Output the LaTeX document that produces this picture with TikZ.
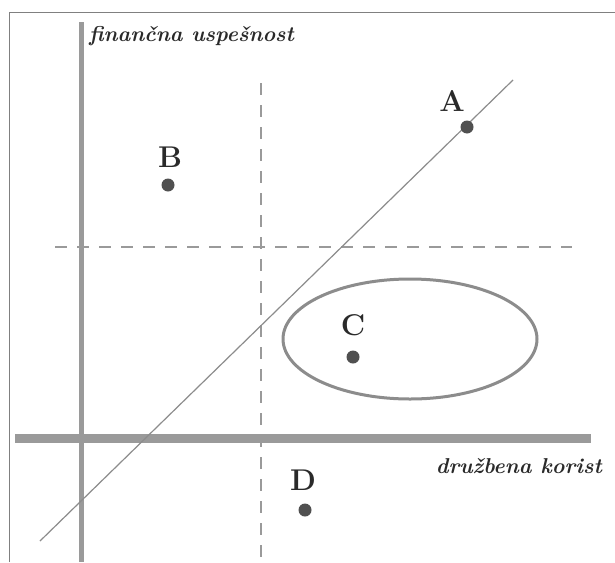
\documentclass[tikz,border=0pt]{standalone}
\usepackage{fontspec}
\usepackage{tikz}
\definecolor{axisgray}{HTML}{9A9A9A}
\definecolor{dotgray}{HTML}{505050}
\definecolor{linegray}{HTML}{8C8C8C}
\definecolor{textgray}{HTML}{2A2A2A}
\begin{document}
\begin{tikzpicture}[x=1pt,y=-1pt,
  axisline/.style={draw=axisgray,line cap=butt},
  dashline/.style={draw=axisgray,line width=2pt,dash pattern=on 12pt off 10pt},
  dotnode/.style={circle,fill=dotgray,inner sep=0pt,minimum size=13pt},
  ptlabel/.style={font=\fontsize{30}{30}\selectfont\bfseries,text=textgray,inner sep=0pt},
  axlabel/.style={font=\fontsize{21.5}{21.5}\selectfont\bfseries\itshape,text=textgray,inner sep=0pt}]
\useasboundingbox (0,0) rectangle (615,562);
\fill[white] (0,0) rectangle (615,562);
% frame
\draw[gray,line width=1pt] (9,562) -- (9,12) -- (615,12);
% dashed guides
\coordinate (dvt) at (261,83);
\coordinate (dvb) at (261,562);
\coordinate (dhl) at (55,247);
\coordinate (dhr) at (572,247);
\draw[dashline] (dvt) -- (dvb);
\draw[dashline] (dhl) -- (dhr);
% axes
\coordinate (yt) at (81,22);
\coordinate (yb) at (81,562);
\coordinate (xl) at (15,438);
\coordinate (xr) at (591,438);
\draw[axisline,line width=5pt] (yt) -- (yb);
\draw[axisline,line width=9pt] (xl) -- (xr);
% diagonal
\coordinate (d1) at (40,541);
\coordinate (d2) at (513,80);
\draw[linegray,line width=1.2pt] (d1) -- (d2);
% ellipse
\draw[linegray,line width=3pt] (410,339) ellipse [x radius=127pt, y radius=60pt];
% points
\node[dotnode] (A) at (467,127) {};
\node[dotnode] (B) at (168,185) {};
\node[dotnode] (C) at (353,357) {};
\node[dotnode] (D) at (305,510) {};
\node[ptlabel] (la) at (452,101) {A};
\node[ptlabel] (lb) at (170,157) {B};
\node[ptlabel] (lc) at (353,325) {C};
\node[ptlabel] (ld) at (303,480) {D};
% axis labels
\node[axlabel,anchor=base west] (fy) at (89,41) {finančna uspešnost};
\node[axlabel,anchor=base east] (fx) at (602,473) {družbena korist};
\end{tikzpicture}
\end{document}
